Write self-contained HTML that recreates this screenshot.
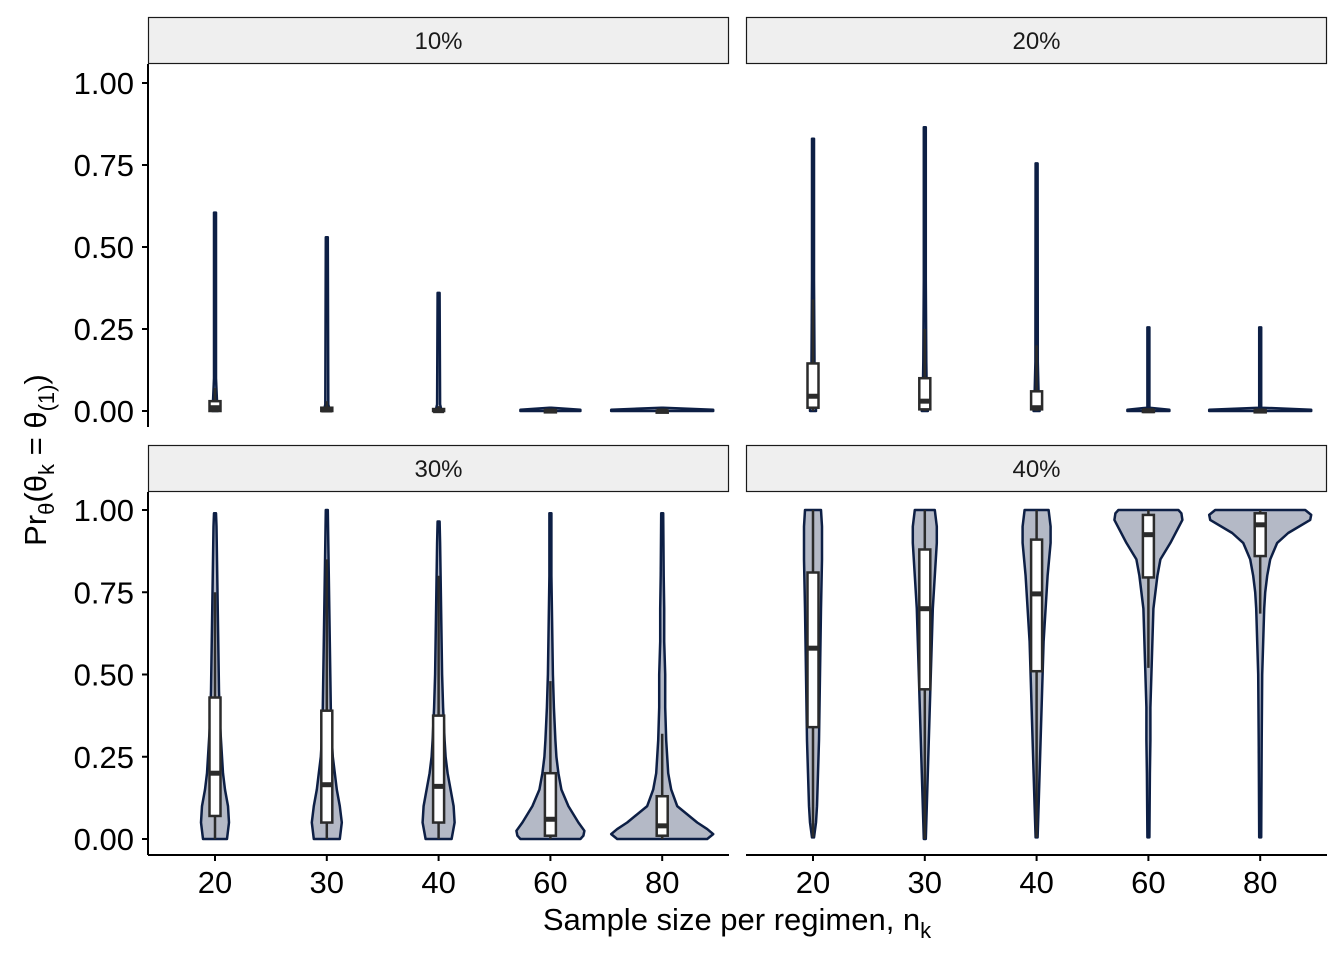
<!DOCTYPE html>
<html><head><meta charset="utf-8"><style>
body{margin:0;background:#fff}
svg{display:block;font-family:"Liberation Sans",Arial,sans-serif}
</style></head><body>
<svg id="chart" width="1344" height="960" viewBox="0 0 1344 960"></svg>
<script>
const categories = ["20","30","40","60","80"];
const panelLabels = ["10%","20%","30%","40%"];
const yTicks = [0,0.25,0.5,0.75,1];
const yTickLabels = ["0.00","0.25","0.50","0.75","1.00"];
const dens10 = [
 [[0,3],[0.03,2],[0.1,1],[0.605,1]],
 [[0,3],[0.02,1.5],[0.53,1]],
 [[0,3],[0.02,1.5],[0.36,1]],
 [[0,30],[0.004,30],[0.01,1]],
 [[0,51],[0.004,51],[0.01,1]]
];
const box10 = [[0,0,0.01,0.03,0.07],[0,0,0.003,0.01,0.03],[0,0,0.001,0.006,0.015],[0,0,0,0.002,0.004],[0,0,0,0.001,0.003]];
const dens20 = [
 [[0,3],[0.05,2.5],[0.15,1.5],[0.4,1],[0.83,1]],
 [[0,3],[0.05,2],[0.15,1.5],[0.4,1],[0.865,1]],
 [[0,3],[0.05,2],[0.15,1.2],[0.755,1]],
 [[0,21],[0.004,21],[0.01,1],[0.255,1]],
 [[0,51],[0.004,51],[0.01,1],[0.255,1]]
];
const box20 = [[0,0.01,0.045,0.145,0.34],[0,0.005,0.03,0.1,0.25],[0,0.005,0.01,0.06,0.2],[0,0,0.001,0.003,0.006],[0,0,0,0.002,0.005]];
const dens30 = [
 [[0,12],[0.05,14],[0.1,13],[0.15,10],[0.2,8],[0.25,7],[0.3,6],[0.35,5],[0.45,4],[0.55,3.5],[0.65,3],[0.75,2.5],[0.85,2],[0.95,1.5],[0.99,1]],
 [[0,13],[0.05,15],[0.1,13],[0.15,10],[0.2,8],[0.25,6],[0.3,5],[0.4,4],[0.5,3.5],[0.6,3],[0.7,2.5],[0.8,2],[0.9,1.5],[1,1]],
 [[0,13],[0.05,16],[0.1,15],[0.15,12],[0.2,9],[0.25,7],[0.3,6],[0.4,4.5],[0.5,3.5],[0.6,3],[0.7,2.5],[0.8,2],[0.9,1.5],[0.965,1]],
 [[0,30],[0.01,33],[0.025,34],[0.05,28],[0.1,18],[0.15,11],[0.2,8],[0.25,6],[0.3,5],[0.4,3.5],[0.5,2.5],[0.6,2],[0.7,1.5],[0.8,1],[0.99,1]],
 [[0,45],[0.015,51],[0.03,45],[0.05,35],[0.1,15],[0.15,9],[0.2,6],[0.25,5],[0.3,4],[0.4,3],[0.5,3],[0.6,2],[0.7,2],[0.8,1.5],[0.99,1]]
];
const box30 = [[0,0.07,0.2,0.43,0.75],[0,0.05,0.165,0.39,0.85],[0,0.05,0.16,0.375,0.8],[0,0.01,0.06,0.2,0.48],[0,0.01,0.04,0.13,0.32]];
const dens40 = [
 [[0.005,1],[0.05,3],[0.1,4],[0.2,5],[0.3,6],[0.5,7],[0.7,8],[0.85,9],[0.95,9],[1,8]],
 [[0,1],[0.1,2],[0.2,3],[0.3,4],[0.4,5],[0.5,6],[0.6,7],[0.7,8],[0.8,10],[0.9,12],[0.95,12],[1,10]],
 [[0.005,1],[0.1,2],[0.2,3],[0.3,4],[0.4,5],[0.5,6],[0.6,7],[0.7,9],[0.8,11],[0.9,14],[0.95,14],[1,12]],
 [[0.005,1],[0.2,1.5],[0.3,2],[0.4,2],[0.5,3],[0.6,4],[0.7,5],[0.8,9],[0.85,12],[0.9,22],[0.97,34],[0.99,33],[1,30]],
 [[0.005,1],[0.3,1.5],[0.5,2],[0.6,3],[0.7,4],[0.75,5],[0.8,7],[0.85,10],[0.9,17],[0.93,28],[0.97,50],[0.985,51],[1,45]]
];
const box40 = [[0.005,0.34,0.58,0.81,1],[0,0.455,0.7,0.88,1],[0.005,0.51,0.745,0.91,1],[0.52,0.795,0.925,0.985,1],[0.685,0.86,0.955,0.99,1]];
const allDens = [dens10,dens20,dens30,dens40];
const allBox = [box10,box20,box30,box40];

const NS="http://www.w3.org/2000/svg";
const svg=document.getElementById('chart');
function mk(t,a,p){const e=document.createElementNS(NS,t);for(const k in a)e.setAttribute(k,a[k]);(p||svg).appendChild(e);return e;}
const panels=[{x0:148,x1:729,y0:64,y1:427,sy:17,yz:411,yo:83},{x0:746,x1:1327,y0:64,y1:427,sy:17,yz:411,yo:83},
 {x0:148,x1:729,y0:492,y1:855,sy:445,yz:839,yo:510},{x0:746,x1:1327,y0:492,y1:855,sy:445,yz:839,yo:510}];
panels.forEach((P,pi)=>{
 const g=mk('g',{});
 
 
 const yS=v=>P.yz-(P.yz-P.yo)*v;
 const xS=i=>P.x0+67+i*111.8;
 const strip=mk('rect',{x:P.x0+0.5,y:P.sy+0.5,width:P.x1-P.x0-1,height:46,fill:'#efefef',stroke:'#1a1a1a','stroke-width':1.2},g);
 
 
 const st=mk('text',{x:(P.x0+P.x1)/2,y:P.sy+32,'text-anchor':'middle','font-size':24,fill:'#1a1a1a'},g);
 st.textContent=panelLabels[pi];
 
 
 if(pi%2===0){
  const ax=mk('line',{x1:P.x0,x2:P.x0,y1:P.y0,y2:P.y1,stroke:'#000','stroke-width':2},g);
  
  
  yTicks.forEach((t,i)=>{
   mk('line',{x1:P.x0-6,x2:P.x0,y1:yS(t),y2:yS(t),stroke:'#000','stroke-width':2},g);
   const tl=mk('text',{x:P.x0-14,y:yS(t)+11,'text-anchor':'end','font-size':31,fill:'#000'},g);
   tl.textContent=yTickLabels[i];
   
   
  });
 }
 if(pi>=2){
  const xa=mk('line',{x1:P.x0,x2:P.x1,y1:P.y1,y2:P.y1,stroke:'#000','stroke-width':2},g);
  
  
  categories.forEach((c,i)=>{
   mk('line',{x1:xS(i),x2:xS(i),y1:P.y1,y2:P.y1+6,stroke:'#000','stroke-width':2},g);
   const tl=mk('text',{x:xS(i),y:P.y1+38,'text-anchor':'middle','font-size':31,fill:'#000'},g);
   tl.textContent=c;
   
   
  });
 }
 allDens[pi].forEach((d,i)=>{
  const cx=xS(i);
  let right=d.map(p=>[cx+p[1],yS(p[0])]);
  let left=d.slice().reverse().map(p=>[cx-p[1],yS(p[0])]);
  const pts=right.concat(left).map(p=>p[0].toFixed(1)+','+p[1].toFixed(1)).join(' ');
  const v=mk('polygon',{points:pts,fill:'#b4b9c6',stroke:'#0d1f45','stroke-width':2.5,'stroke-linejoin':'round'},g);
  
  
  const b=allBox[pi][i];
  mk('line',{x1:cx,x2:cx,y1:yS(b[0]),y2:yS(b[4]),stroke:'#2b2b2b','stroke-width':2.5},g);
  const bx=mk('rect',{x:cx-5.5,y:yS(b[3]),width:11,height:Math.max(yS(b[1])-yS(b[3]),2),fill:'#fff',stroke:'#2b2b2b','stroke-width':2.5},g);
  
  
  mk('line',{x1:cx-5.5,x2:cx+5.5,y1:yS(b[2]),y2:yS(b[2]),stroke:'#2b2b2b','stroke-width':5},g);
 });
});
const xt=mk('text',{x:737,y:930,'text-anchor':'middle','font-size':31,fill:'#000'});
xt.innerHTML='Sample size per regimen, n<tspan font-size="22" dy="8">k</tspan>';


const yt=mk('text',{x:0,y:0,'text-anchor':'middle','font-size':31,fill:'#000',transform:'translate(46,460) rotate(-90)'});
yt.innerHTML='Pr<tspan font-size="22" dy="8">θ</tspan><tspan dy="-8">(θ</tspan><tspan font-size="22" dy="8">k</tspan><tspan dy="-8"> = θ</tspan><tspan font-size="22" dy="8">(1)</tspan><tspan dy="-8">)</tspan>';


</script>
</body></html>
